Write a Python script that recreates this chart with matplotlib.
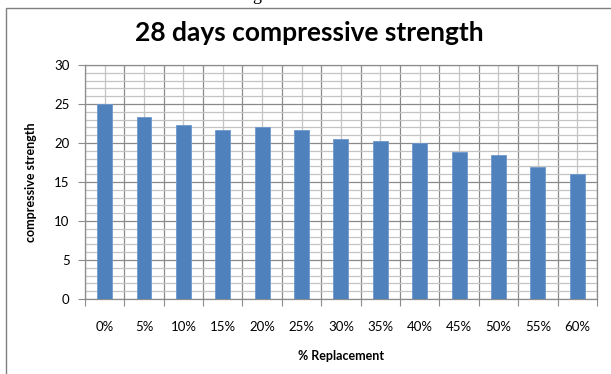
import numpy as np
import matplotlib.pyplot as plt
from matplotlib.patches import Rectangle
from matplotlib.ticker import MultipleLocator, FixedLocator

replacement = ['0%', '5%', '10%', '15%', '20%', '25%', '30%', '35%', '40%',
               '45%', '50%', '55%', '60%']
strength = [25.0, 23.3, 22.3, 21.7, 22.1, 21.7, 20.5, 20.3, 20.0, 18.9, 18.5, 16.9, 16.0]

plt.rcParams['font.family'] = ['Lato', 'DejaVu Sans']

fig = plt.figure(figsize=(6.11, 3.74), dpi=100)
ax = fig.add_axes([0.139, 0.2005, 0.838, 0.6255])

x = np.arange(len(replacement))
ax.bar(x, strength, width=0.38, color='#4F81BD', edgecolor='#6E98CC', linewidth=0.6, zorder=3)

ax.set_xlim(-0.5, len(replacement) - 0.5)
ax.set_ylim(0, 30)

# category boundaries carry the tick marks, labels sit at the bar centres
ax.xaxis.set_major_locator(FixedLocator(np.arange(-0.5, len(replacement), 1.0)))
ax.xaxis.set_minor_locator(FixedLocator(x))
ax.set_xticklabels([''] * (len(replacement) + 1))
ax.set_xticklabels(replacement, minor=True)
ax.tick_params(axis='x', which='major', length=5, color='#8c8c8c', direction='out')
ax.tick_params(axis='x', which='minor', length=0, pad=16, labelsize=9.5)

ax.yaxis.set_major_locator(MultipleLocator(5))
ax.yaxis.set_minor_locator(MultipleLocator(1))
ax.tick_params(axis='y', which='major', length=5, color='#8c8c8c', labelsize=9.5, pad=6)
ax.tick_params(axis='y', which='minor', length=0)

ax.grid(which='major', color='#8a8a8a', linewidth=0.9, zorder=0)
ax.grid(which='minor', color='#c4c4c4', linewidth=0.9, zorder=0)
ax.set_axisbelow(True)
for side in ax.spines.values():
    side.set_color('#8c8c8c')
    side.set_linewidth(0.9)

ax.set_xlabel('% Replacement', fontsize=9, fontweight='bold', labelpad=12)
ax.set_ylabel('compressive strength', fontsize=9, fontweight='bold', labelpad=12)

fig.text(0.507, 0.912, '28 days compressive strength', ha='center', va='center',
         fontsize=19, fontweight='bold')
fig.text(0.5, 1.012, 'grade concrete', ha='center', va='center',
         fontsize=13, family='Liberation Serif')

# chart area frame
fig.patches.append(Rectangle((6 / 611, -0.1), 1.2, 1.1 - 8 / 374, transform=fig.transFigure,
                             fill=False, edgecolor='#7f7f7f', linewidth=1.0))

fig.savefig('out.png', dpi=100)
